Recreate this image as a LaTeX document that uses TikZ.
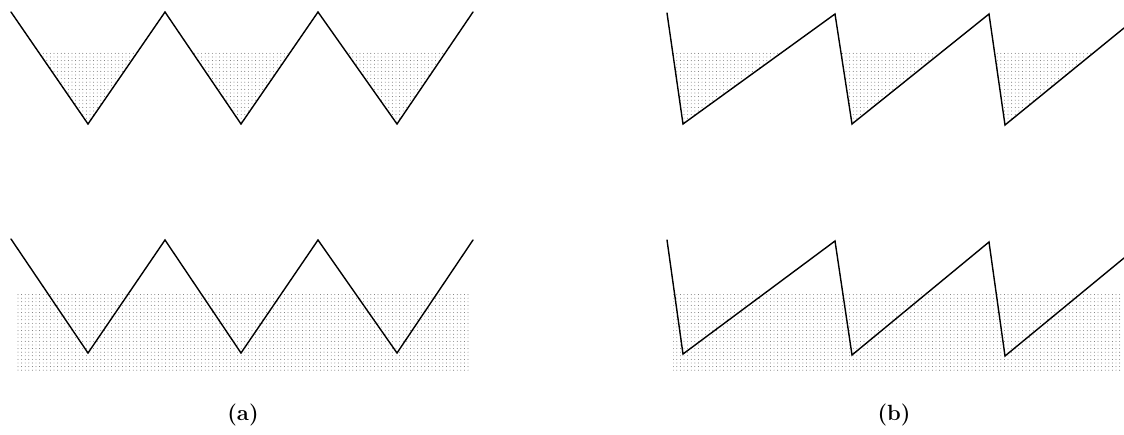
\documentclass[tikz,border=0pt]{standalone}
\usetikzlibrary{patterns.meta}
\begin{document}
\begin{tikzpicture}[x=1pt,y=-1pt,
  wave/.style={line width=1.4pt,line join=miter,line cap=round},
  dotfill/.style={pattern={Dots[distance=3.6pt,radius=0.45pt]},pattern color=black!65},
  lbl/.style={font=\fontsize{22}{24}\selectfont\bfseries,inner sep=0pt}]
\useasboundingbox (0,0) rectangle (1124,435);
% ---------- (a) top ----------
\begin{scope}
  \clip (11,12) -- (88,124) -- (165,12) -- (241,124) -- (318,12) -- (397,124) -- (473,12) -- (473,0) -- (11,0) -- cycle;
  \fill[dotfill] (11,53) rectangle (473,126);
\end{scope}
\draw[wave] (11,12) -- (88,124) -- (165,12) -- (241,124) -- (318,12) -- (397,124) -- (473,12);
% ---------- (a) bottom ----------
\fill[dotfill] (16,293) rectangle (470,370);
\draw[wave] (11,239) -- (88,353) -- (165,240) -- (241,353) -- (318,240) -- (397,353) -- (473,240);
% ---------- (b) top ----------
\begin{scope}
  \clip (667,13) -- (683,124) -- (835,14) -- (852,124) -- (989,14) -- (1005,125) -- (1124,28) -- (1124,0) -- (667,0) -- cycle;
  \fill[dotfill] (667,53) rectangle (1124,127);
\end{scope}
\draw[wave] (667,13) -- (683,124) -- (835,14) -- (852,124) -- (989,14) -- (1005,125) -- (1124,28);
% ---------- (b) bottom ----------
\fill[dotfill] (673,293) rectangle (1120,370);
\draw[wave] (667,240) -- (683,354) -- (835,241) -- (852,355) -- (989,242) -- (1005,356) -- (1124,258);
% ---------- labels ----------
\node[lbl] (la) at (243,415) {(a)};
\node[lbl] (lb) at (894,415) {(b)};
\end{tikzpicture}
\end{document}
